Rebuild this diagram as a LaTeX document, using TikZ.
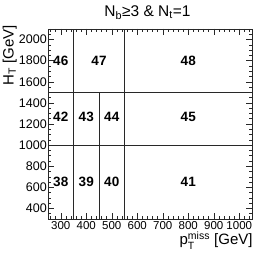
\documentclass[tikz,border=0pt]{standalone}
\usepackage{fontspec}
\setmainfont{Liberation Sans}
\usepackage{amsmath}
\usepackage{tikz}
\definecolor{axisGray}{RGB}{40, 40, 40}

\begin{document}
\begin{tikzpicture}[
    x=0.255pt, y=0.10556pt,
    frame/.style={draw=axisGray, line width=0.7pt},
    binline/.style={axisGray, line width=0.7pt},
    axtick/.style={axisGray, line width=0.5pt},
    binlabel/.style={font=\fontsize{13.5}{15}\selectfont\bfseries, inner sep=0pt},
    xlabel/.style={font=\fontsize{11.5}{13}\selectfont, inner sep=0pt, anchor=north, yshift=-2pt},
    ylabel/.style={font=\fontsize{12.5}{14}\selectfont, inner sep=0pt, anchor=east, xshift=-1pt},
    axtitle/.style={font=\fontsize{15}{17}\selectfont, inner sep=0pt},
  ]
    \useasboundingbox (61.76,-69.46) rectangle (1104.9,2374.6);

    % frame and bin boundaries
    \draw[frame] (250,300) rectangle (1050,2100);
    \draw[binline] (250,1000) -- (1050,1000);
    \draw[binline] (250,1500) -- (1050,1500);
    \draw[binline] (350,300) -- (350,2100);
    \draw[binline] (450,300) -- (450,1500);
    \draw[binline] (550,300) -- (550,2100);

    % ticks
    \foreach \v in {260,280,...,1040} {
      \draw[axtick] (\v,300) -- ++(0,2.8pt);
      \draw[axtick] (\v,2100) -- ++(0,-2.8pt);
    }
    \foreach \v in {300,400,...,1000} {
      \draw[axtick] (\v,300) -- ++(0,5.7pt);
      \draw[axtick] (\v,2100) -- ++(0,-5.7pt);
      \node[xlabel] (xl\v) at (\v,300) {\v};
    }
    \foreach \v in {350,400,...,2050} {
      \draw[axtick] (250,\v) -- ++(3pt,0);
      \draw[axtick] (1050,\v) -- ++(-3pt,0);
    }
    \foreach \v in {400,600,...,2000} {
      \draw[axtick] (250,\v) -- ++(6pt,0);
      \draw[axtick] (1050,\v) -- ++(-6pt,0);
      \node[ylabel] (yl\v) at (250,\v) {\v};
    }

    % bin numbers
    \node[binlabel] (b46) at (300,1800) {46};
    \node[binlabel] (b47) at (450,1800) {47};
    \node[binlabel] (b48) at (800,1800) {48};
    \node[binlabel] (b42) at (300,1265) {42};
    \node[binlabel] (b43) at (400,1265) {43};
    \node[binlabel] (b44) at (500,1265) {44};
    \node[binlabel] (b45) at (800,1265) {45};
    \node[binlabel] (b38) at (300,650) {38};
    \node[binlabel] (b39) at (400,650) {39};
    \node[binlabel] (b40) at (500,650) {40};
    \node[binlabel] (b41) at (800,650) {41};

    % titles
    \node[axtitle, anchor=base, font=\fontsize{15.5}{17}\selectfont] (title) at (640,2216)
      {N\textsubscript{b}≥3 \& N\textsubscript{t}=1};
    \node[axtitle, anchor=base east] (xtitle) at (1053,54)
      {p$^{\text{miss}}_{\text{T}}$ [GeV]};
    \node[axtitle, anchor=base east, rotate=90] (ytitle) at (115,2135)
      {H\textsubscript{T} [GeV]};
  \end{tikzpicture}
\end{document}
